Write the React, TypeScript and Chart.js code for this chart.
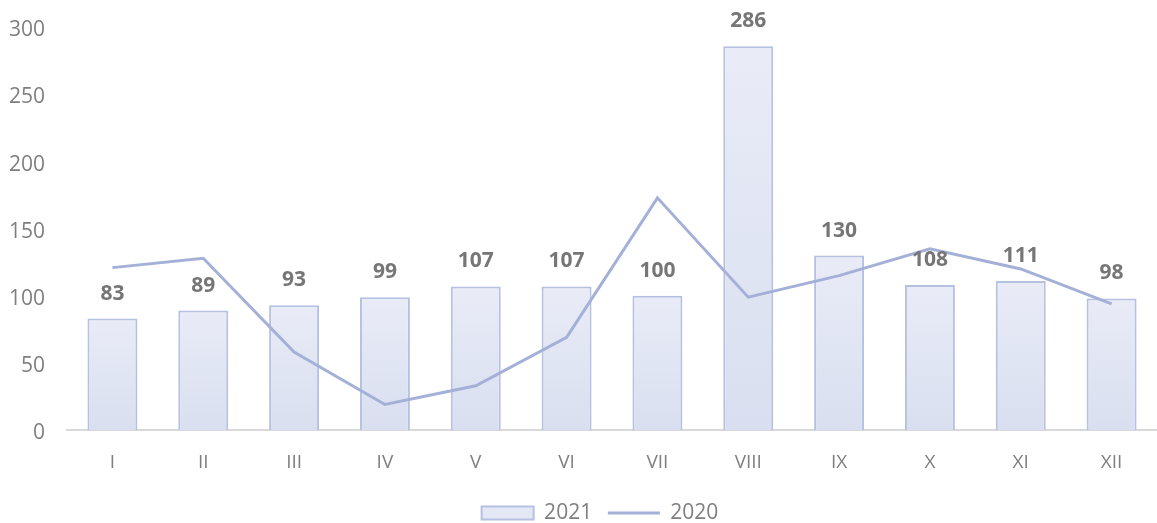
import React, { useEffect, useRef } from "react";
import { Chart, registerables } from "chart.js";

Chart.register(...registerables);

const categories = ["I", "II", "III", "IV", "V", "VI", "VII", "VIII", "IX", "X", "XI", "XII"];
const values2021 = [83, 89, 93, 99, 107, 107, 100, 286, 130, 108, 111, 98];
const values2020 = [121, 128, 58, 19, 33, 69, 173, 99, 115, 135, 120, 94];
const yTicks = [0, 50, 100, 150, 200, 250, 300];

const FONT = "'Open Sans', 'DejaVu Sans', sans-serif";
const TEXT = "#7f7f7f";
const LINE = "#a4b0d8";
const BAR_BORDER = "#b6c0e1";

const barLabels = {
  id: "barLabels",
  afterLayout(chart: any) {
    const lg = chart.legend;
    if (lg) {
      lg.left += 24;
      lg.right += 24;
    }
  },
  afterDatasetsDraw(chart: any) {
    const meta = chart.getDatasetMeta(0);
    const ctx = chart.ctx;
    ctx.save();
    ctx.font = `bold 21px ${FONT}`;
    ctx.fillStyle = "#767676";
    ctx.textAlign = "center";
    ctx.textBaseline = "middle";
    meta.data.forEach((el: any, i: number) => {
      ctx.fillText(String(values2021[i]), el.x, el.y - 25);
    });
    ctx.restore();
  },
};

export default function App() {
  const ref = useRef<HTMLCanvasElement>(null);
  useEffect(() => {
    document.body.style.margin = "0";
    const chart = new Chart(ref.current!, {
      type: "bar",
      data: {
        labels: categories,
        datasets: [
          {
            type: "bar",
            label: "2021",
            data: values2021,
            backgroundColor: (c: any) => {
              const ys = c.chart.scales && c.chart.scales.y;
              if (!ys || c.raw == null || !isFinite(ys.bottom)) return "#e3e7f4";
              const top = ys.getPixelForValue(c.raw);
              const bottom = ys.getPixelForValue(0);
              if (!isFinite(top) || !isFinite(bottom) || top === bottom) return "#e3e7f4";
              const g = c.chart.ctx.createLinearGradient(0, bottom, 0, top);
              g.addColorStop(0, "#d9dff0");
              g.addColorStop(1, "#e9ecf7");
              return g;
            },
            borderColor: BAR_BORDER,
            borderWidth: 2,
            barPercentage: 0.55,
            categoryPercentage: 1,
            order: 2,
          },
          {
            type: "line",
            label: "2020",
            data: values2020,
            borderColor: LINE,
            borderWidth: 3,
            pointRadius: 0,
            tension: 0,
            fill: false,
            order: 1,
          },
        ],
      },
      options: {
        responsive: true,
        maintainAspectRatio: false,
        animation: false,
        layout: { padding: { top: 27.4, right: 0, left: -5, bottom: -10.5 } },
        plugins: {
          tooltip: { enabled: false },
          legend: {
            position: "bottom",
            labels: {
              font: { family: FONT, size: 21 },
              color: TEXT,
              usePointStyle: true,
              pointStyleWidth: 52,
              boxHeight: 13,
              padding: 15.7,
              generateLabels: () => [
                {
                  text: "2021",
                  fillStyle: "#e4e8f5",
                  strokeStyle: BAR_BORDER,
                  lineWidth: 2,
                  pointStyle: "rect",
                  fontColor: TEXT,
                  datasetIndex: 0,
                },
                {
                  text: "2020",
                  fillStyle: LINE,
                  strokeStyle: LINE,
                  lineWidth: 3,
                  pointStyle: "line",
                  fontColor: TEXT,
                  datasetIndex: 1,
                },
              ],
            },
          },
        },
        scales: {
          x: {
            grid: { display: false },
            border: { display: true, color: "#d9d9d9", width: 2 },
            ticks: { font: { family: FONT, size: 19 }, color: TEXT, padding: 13 },
          },
          y: {
            min: 0,
            max: 300,
            afterBuildTicks: (axis: any) => {
              axis.ticks = yTicks.map((v) => ({ value: v }));
            },
            grid: { display: false },
            border: { display: false },
            ticks: { font: { family: FONT, size: 21 }, color: TEXT, padding: 14, labelOffset: 3 },
          },
        },
      },
      plugins: [barLabels],
    });
    return () => chart.destroy();
  }, []);
  return (
    <div style={{ position: "fixed", left: 0, top: 0, width: 1157, height: 523 }}>
      <canvas ref={ref} />
    </div>
  );
}
